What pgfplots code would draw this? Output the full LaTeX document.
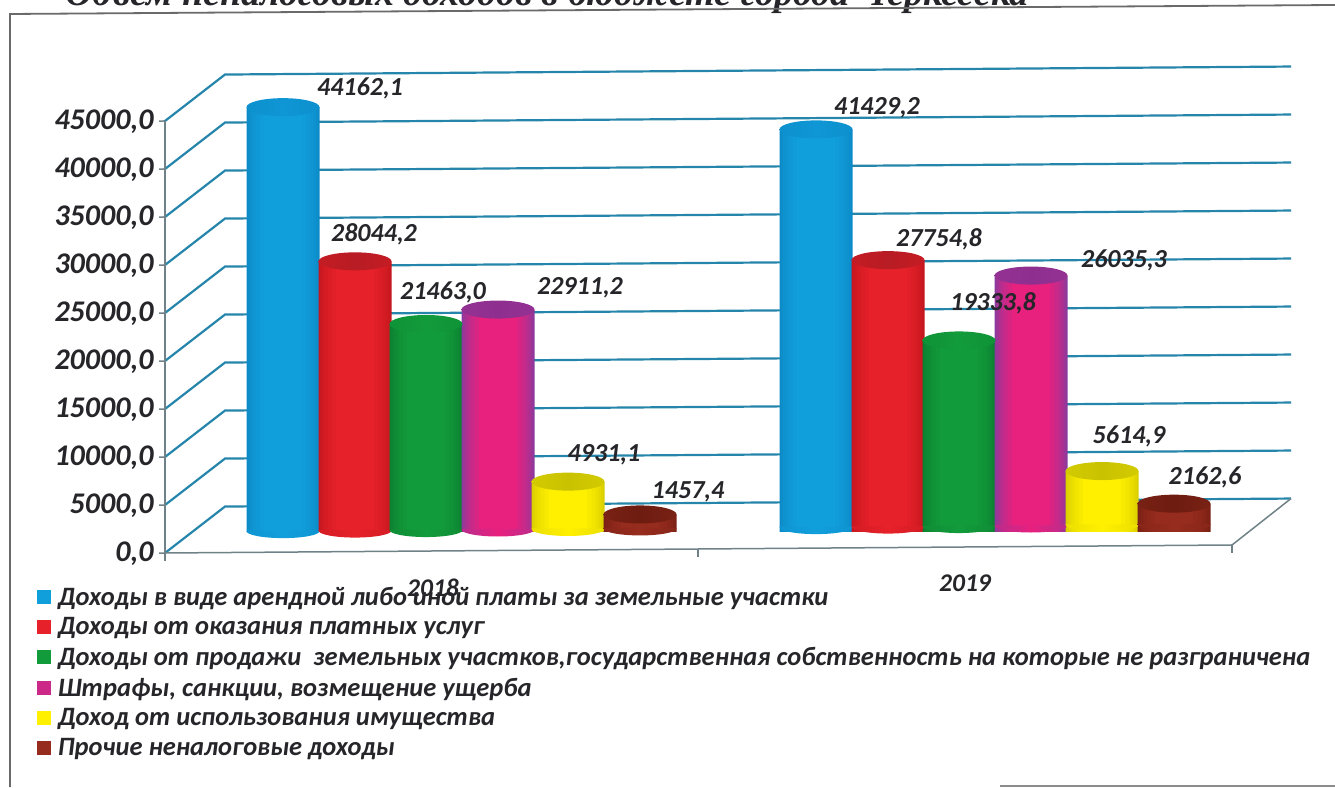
\documentclass[border=0pt]{standalone}
\usepackage{pgfplots}
\usepackage{pgfplotstable}
\usepackage{fontspec}
\pgfplotsset{compat=1.18}
\setmainfont{Carlito}
\newfontfamily\titlefont{Liberation Serif}
\definecolor{gridc}{HTML}{2585AB}
\definecolor{axisc}{HTML}{6F8288}
\definecolor{txt}{HTML}{26262A}
\definecolor{frame}{HTML}{6A6A6A}

% x = horizontal position of the cylinder in the picture, y = value
\pgfplotstableread{
x y
283 44162.1
816 41429.2
}\dataA
\pgfplotstableread{
x y
355 28044.2
888 27754.8
}\dataB
\pgfplotstableread{
x y
426 21463.0
959 19333.8
}\dataC
\pgfplotstableread{
x y
498 22911.2
1031 26035.3
}\dataD
\pgfplotstableread{
x y
568 4931.1
1102 5614.9
}\dataE
\pgfplotstableread{
x y
640 1457.4
1174 2162.6
}\dataF

\definecolor{c1e}{HTML}{0C8AC8}\definecolor{c1m}{HTML}{119FDC}\definecolor{c1t}{HTML}{0F96D4}\definecolor{c1u}{HTML}{0C8AC8}
\definecolor{c2e}{HTML}{C4161E}\definecolor{c2m}{HTML}{E6212A}\definecolor{c2t}{HTML}{B81C24}\definecolor{c2u}{HTML}{D01C24}
\definecolor{c3e}{HTML}{0C7F30}\definecolor{c3m}{HTML}{129B3B}\definecolor{c3t}{HTML}{129B3B}\definecolor{c3u}{HTML}{0C8A34}
\definecolor{c4e}{HTML}{8A3A9C}\definecolor{c4m}{HTML}{E8207E}\definecolor{c4t}{HTML}{8E2F8F}\definecolor{c4u}{HTML}{9A3498}
\definecolor{c5e}{HTML}{D8CE00}\definecolor{c5m}{HTML}{FFF000}\definecolor{c5t}{HTML}{C9C200}\definecolor{c5u}{HTML}{DDD400}
\definecolor{c6e}{HTML}{7A2014}\definecolor{c6m}{HTML}{962C1E}\definecolor{c6t}{HTML}{6E1C10}\definecolor{c6u}{HTML}{84261A}

% #1 series number
\newcommand\cylmarks[1]{%
  \pgfdeclarehorizontalshading{s#1b}{100bp}{color(0bp)=(c#1e); color(50bp)=(c#1m); color(100bp)=(c#1e)}%
  \pgfdeclarehorizontalshading{s#1t}{100bp}{color(0bp)=(c#1u); color(50bp)=(c#1t); color(100bp)=(c#1u)}%
  \pgfdeclareplotmark{m#1b}{\pgfpathmoveto{\pgfqpoint{-36.5pt}{0.5pt}}\pgfpathlineto{\pgfqpoint{-36.5pt}{0pt}}\pgfpatharc{180}{360}{36.5pt and 7pt}\pgfpathlineto{\pgfqpoint{36.5pt}{0.5pt}}\pgfpathclose\pgfshadepath{s#1b}{0}\pgfusepath{discard}}%
  \pgfdeclareplotmark{m#1t}{\pgfpathellipse{\pgfpointorigin}{\pgfqpoint{36.5pt}{0pt}}{\pgfqpoint{0pt}{9pt}}\pgfshadepath{s#1t}{0}\pgfusepath{discard}}%
}
\cylmarks{1}\cylmarks{2}\cylmarks{3}\cylmarks{4}\cylmarks{5}\cylmarks{6}

% one layer of a body: #1 series, #2 table, #3 width, #4 share of the mid colour
\newcommand\onelayer[4]{%
  \addplot[ybar,bar width=#3pt,bar shift=0pt,draw=none,fill=c#1m!#4!c#1e,forget plot] table {#2};
}
\newcommand\cyl[2]{%
  \addplot[only marks,mark=m#1b,forget plot] table[x=x,y expr=0] {#2};
  \onelayer{#1}{#2}{73}{0}
  \onelayer{#1}{#2}{70}{17}
  \onelayer{#1}{#2}{66}{33}
  \onelayer{#1}{#2}{61}{50}
  \onelayer{#1}{#2}{55}{67}
  \onelayer{#1}{#2}{47}{83}
  \onelayer{#1}{#2}{38}{100}
  \addplot[only marks,mark=m#1t,forget plot] table {#2};
}
\tikzset{lab/.style={font=\fontsize{26}{26}\selectfont\bfseries\itshape,text=txt,inner sep=0pt,anchor=center}}
\pgfplotsset{
  tilted/.style={x={(1pt,0.0075pt)},y={(0pt,0.0096pt)},clip=false},
}
\begin{document}
\begin{tikzpicture}[x=1pt,y=1pt]
\useasboundingbox (0,0) rectangle (1335,787);

% page furniture: cropped title and frame
\node[anchor=base west,inner sep=0pt,font=\titlefont\fontsize{38}{38}\selectfont\bfseries\itshape,text=txt] at (65,781.5) {Объем неналоговых доходов в бюджете города Черкесска};
\draw[frame,line width=1.8pt] (10,0) -- (10,773) -- (1335,782);
\draw[black!45,line width=1.2pt] (1000,1) -- (1335,1);

% walls, floor, ticks
\begin{axis}[
  tilted,anchor=south west,at={(165pt,234pt)},
  xmin=165,xmax=1232,ymin=0,ymax=45000,
  axis x line*=bottom,axis y line*=left,
  axis line style={draw=none},
  xtick={433,965},xticklabels={2018,2019},
  x tick style={draw=none},
  x tick label style={font=\fontsize{25.5}{26}\selectfont\bfseries\itshape,text=txt,yshift=-22pt,inner sep=0pt},
  ytick={0,5000,...,45000},
  scaled y ticks=false,
  /pgf/number format/fixed,/pgf/number format/fixed zerofill,/pgf/number format/precision=1,
  /pgf/number format/use comma,/pgf/number format/1000 sep={},/pgf/number format/assume math mode=true,
  y tick label style={font=\fontsize{30}{30}\selectfont\bfseries\itshape,text=txt,xshift=-2pt,yshift=0pt},
  tick align=outside,major tick length=6pt,
  y tick style={axisc,line width=1.5pt},
]
\addplot[forget plot,gridc,line width=2.2pt] coordinates {(165,5000)(225,9792)(1291,9792)};
\addplot[forget plot,gridc,line width=2.2pt] coordinates {(165,10000)(225,14792)(1291,14792)};
\addplot[forget plot,gridc,line width=2.2pt] coordinates {(165,15000)(225,19792)(1291,19792)};
\addplot[forget plot,gridc,line width=2.2pt] coordinates {(165,20000)(225,24792)(1291,24792)};
\addplot[forget plot,gridc,line width=2.2pt] coordinates {(165,25000)(225,29792)(1291,29792)};
\addplot[forget plot,gridc,line width=2.2pt] coordinates {(165,30000)(225,34792)(1291,34792)};
\addplot[forget plot,gridc,line width=2.2pt] coordinates {(165,35000)(225,39792)(1291,39792)};
\addplot[forget plot,gridc,line width=2.2pt] coordinates {(165,40000)(225,44792)(1291,44792)};
\addplot[forget plot,gridc,line width=2.2pt] coordinates {(165,45000)(225,49792)(1291,49792)};
\addplot[forget plot,gridc,line width=2.2pt] coordinates {(165,0)(225,4792)(1291,4792)};
\addplot[forget plot,axisc,line width=1.5pt] coordinates {(165,-800)(165,45000)};
\addplot[forget plot,axisc,line width=1.5pt] coordinates {(165,0)(1232,0)(1291,4792)};
\addplot[forget plot,axisc,line width=1.5pt] coordinates {(698,0)(698,-800)};
\addplot[forget plot,axisc,line width=1.5pt] coordinates {(1232,0)(1232,-800)};
\end{axis}

% cylinders
\begin{axis}[
  tilted,anchor=south west,at={(165pt,255pt)},
  xmin=165,xmax=1232,ymin=0,ymax=45000,
  hide axis,
]
\cyl{1}{\dataA}
\cyl{2}{\dataB}
\cyl{3}{\dataC}
\cyl{4}{\dataD}
\cyl{5}{\dataE}
\cyl{6}{\dataF}
\node[lab,xshift=77pt,yshift=19pt] at (axis cs:283,44162.1) {44162,1};
\node[lab,xshift=19pt,yshift=27pt] at (axis cs:355,28044.2) {28044,2};
\node[lab,xshift=17pt,yshift=32pt] at (axis cs:426,21463.0) {21463,0};
\node[lab,xshift=82pt,yshift=21.5pt] at (axis cs:498,22911.2) {22911,2};
\node[lab,xshift=36pt,yshift=26.6pt] at (axis cs:568,4931.1) {4931,1};
\node[lab,xshift=48pt,yshift=23pt] at (axis cs:640,1457.4) {1457,4};
\node[lab,xshift=61pt,yshift=22pt] at (axis cs:816,41429.2) {41429,2};
\node[lab,xshift=51pt,yshift=21pt] at (axis cs:888,27754.8) {27754,8};
\node[lab,xshift=34pt,yshift=37pt] at (axis cs:959,19333.8) {19333,8};
\node[lab,xshift=93pt,yshift=15pt] at (axis cs:1031,26035.3) {26035,3};
\node[lab,xshift=27pt,yshift=35pt] at (axis cs:1102,5614.9) {5614,9};
\node[lab,xshift=31pt,yshift=26.6pt] at (axis cs:1174,2162.6) {2162,6};
\end{axis}

% legend
\begin{axis}[
  anchor=south west,at={(0pt,0pt)},width=1335pt,height=787pt,scale only axis,
  xmin=0,xmax=1,ymin=0,ymax=1,hide axis,
  legend cell align=left,
  legend style={at={(0.0277,0.2568)},anchor=north west,draw=none,fill=none,inner sep=0pt,outer sep=0pt,
    font=\fontsize{26.5}{26.5}\selectfont\bfseries\itshape,text=txt,row sep=7pt},
  legend image code/.code={\fill[#1,draw=none] (0pt,-7pt) rectangle (14pt,7pt);},
]
\addlegendimage{fill=c1m}
\addlegendentry{\hspace{5pt}Доходы в виде арендной либо иной платы за земельные участки}
\addlegendimage{fill=c2m}
\addlegendentry{\hspace{5pt}Доходы от оказания платных услуг}
\addlegendimage{fill=c3m}
\addlegendentry{\hspace{5pt}Доходы от продажи\ \ земельных участков,государственная собственность на которые не разграничена}
\addlegendimage{fill=c4m!70!c4e}
\addlegendentry{\hspace{5pt}Штрафы, санкции, возмещение ущерба}
\addlegendimage{fill=c5m}
\addlegendentry{\hspace{5pt}Доход от использования имущества}
\addlegendimage{fill=c6m}
\addlegendentry{\hspace{5pt}Прочие неналоговые доходы}
\end{axis}
\end{tikzpicture}
\end{document}
